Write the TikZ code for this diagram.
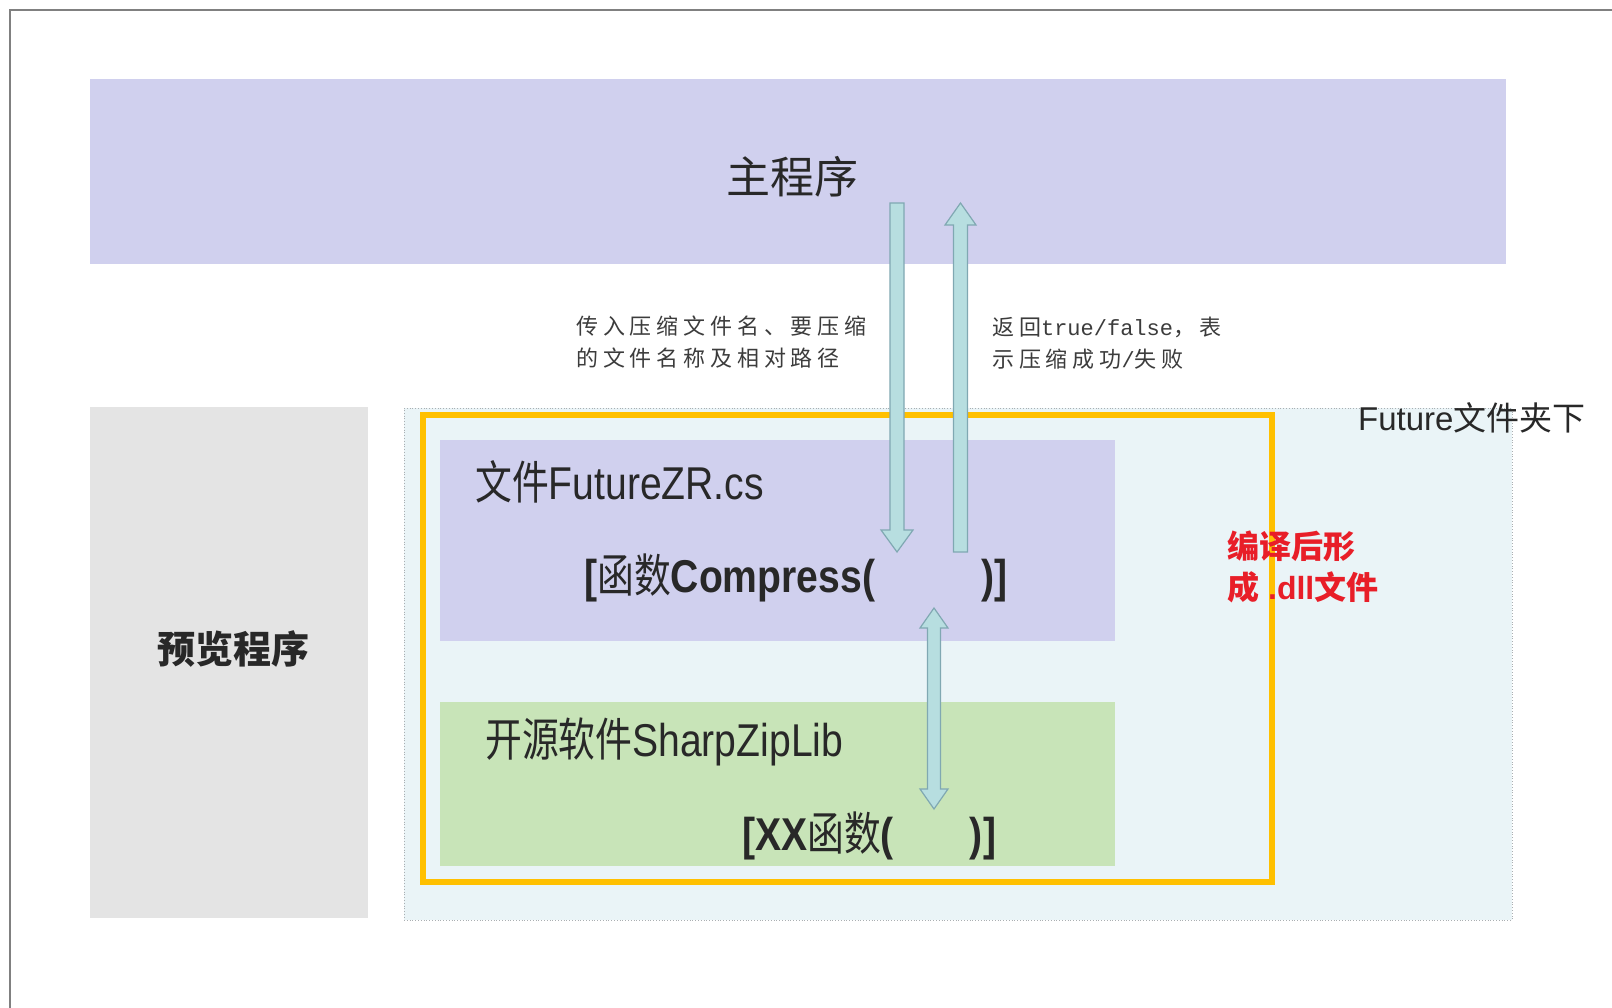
\documentclass[tikz,border=0pt]{standalone}
\usepackage{fontspec}
\setmainfont{Liberation Sans}
\setmonofont{Liberation Mono}
\newfontfamily\cjk{Noto Sans CJK SC}
\newfontfamily\cjkn[FakeStretch=0.8]{Noto Sans CJK SC}
\newfontfamily\latn[FakeStretch=0.85]{Liberation Sans}
\newfontfamily\cjks[LetterSpace=22]{Noto Sans CJK SC}
\usetikzlibrary{calc}
\definecolor{lav}{RGB}{208,208,238}
\definecolor{grayblk}{RGB}{228,228,228}
\definecolor{fold}{RGB}{234,244,247}
\definecolor{grn}{RGB}{200,228,184}
\definecolor{org}{RGB}{255,192,0}
\definecolor{arfill}{RGB}{183,222,224}
\definecolor{ardraw}{RGB}{128,168,178}
\definecolor{redt}{RGB}{232,30,40}
\definecolor{txt}{RGB}{40,40,40}
\definecolor{frame}{RGB}{128,128,128}
\definecolor{dotc}{RGB}{170,175,178}
\definecolor{lbltxt}{RGB}{60,60,60}
\tikzset{
  box/.style={anchor=north west, inner sep=0pt, outer sep=0pt},
  blk/.style={draw=ardraw, fill=arfill, line width=1.2pt, line join=miter},
  lbl/.style={anchor=west, inner sep=0pt, text=txt},
}
\begin{document}
\begin{tikzpicture}[x=1pt,y=-1pt]
\useasboundingbox (0,0) rectangle (1612,1008);
\fill[white] (0,0) rectangle (1612,1008);
\draw[frame, line width=2pt] (10,1008) -- (10,10) -- (1612,10);

% blocks
\node[box, fill=lav, minimum width=1416pt, minimum height=185pt] (main) at (90,79) {};
\node[box, fill=grayblk, minimum width=278pt, minimum height=511pt] (prev) at (90,407) {};
\node[box, fill=fold, draw=dotc, dotted, line width=0.8pt, minimum width=1108pt, minimum height=512pt] (future) at (404,408) {};
\node[box, draw=org, line width=6pt, minimum width=849pt, minimum height=467pt] (dll) at (423,415) {};
\node[box, fill=lav, minimum width=675pt, minimum height=201pt] (cs) at (440,440) {};
\node[box, fill=grn, minimum width=675pt, minimum height=164pt] (zip) at (440,702) {};

% texts
\node[text=txt, inner sep=0pt, font=\cjk\fontsize{44}{50}\selectfont] (tmain) at (792,177) {主程序};
\node[text=txt, inner sep=0pt, font=\cjk\bfseries\fontsize{38}{44}\selectfont] (tprev) at (233,649) {预览程序};
\node[lbl, align=left, text=lbltxt, font=\cjks\fontsize{22}{32}\selectfont] (tin) at (576,342)
  {传入压缩文件名、要压缩\\的文件名称及相对路径};
\node[lbl, align=left, text=lbltxt, font=\cjks\fontsize{22}{32}\selectfont] (tout) at (992,343)
  {返回{\ttfamily true/false}，表\\示压缩成功{\ttfamily /}失败};
\node[lbl, font=\fontsize{33}{38}\selectfont] (tfut) at (1358,418) {Future{\cjk 文件夹下}};
\node[lbl, font=\latn\fontsize{46}{52}\selectfont] (tcs) at (475,482) {{\cjkn 文件}FutureZR.cs};
\node[lbl, font=\latn\fontsize{46}{52}\selectfont] (tcomp) at (584,578) {\textbf{[}{\cjkn 函数}\textbf{Compress(\hspace{106pt})]}};
\node[lbl, font=\latn\fontsize{46}{52}\selectfont] (tzip) at (485,742) {{\cjkn 开源软件}SharpZipLib};
\node[lbl, font=\latn\fontsize{46}{52}\selectfont] (txx) at (742,836) {\textbf{[XX}{\cjkn 函数}\textbf{(\hspace{76pt})]}};
\node[lbl, align=left, text=redt, font=\bfseries\fontsize{32}{41}\selectfont] (tred) at (1227,567)
  {{\cjk 编译后形}\\{\cjk 成} .dll{\cjk 文件}};

% arrows
\coordinate (dtop) at (897,203);
\coordinate (ubot) at (960.5,552);
\coordinate (btop) at (934,608);
\draw[blk] ($(dtop)+(-7,0)$) -- ++(14,0) -- ++(0,327) -- ++(9,0) -- ++(-16,22) -- ++(-16,-22) -- ++(9,0) -- cycle;
\draw[blk] ($(ubot)+(-7,0)$) -- ++(14,0) -- ++(0,-327) -- ++(8.5,0) -- ++(-15.5,-22) -- ++(-15.5,22) -- ++(8.5,0) -- cycle;
\draw[blk] (btop) -- ++(14,20) -- ++(-7.5,0) -- ++(0,161) -- ++(7.5,0) -- ++(-14,20) -- ++(-14,-20) -- ++(7.5,0) -- ++(0,-161) -- ++(-7.5,0) -- cycle;
\end{tikzpicture}
\end{document}
